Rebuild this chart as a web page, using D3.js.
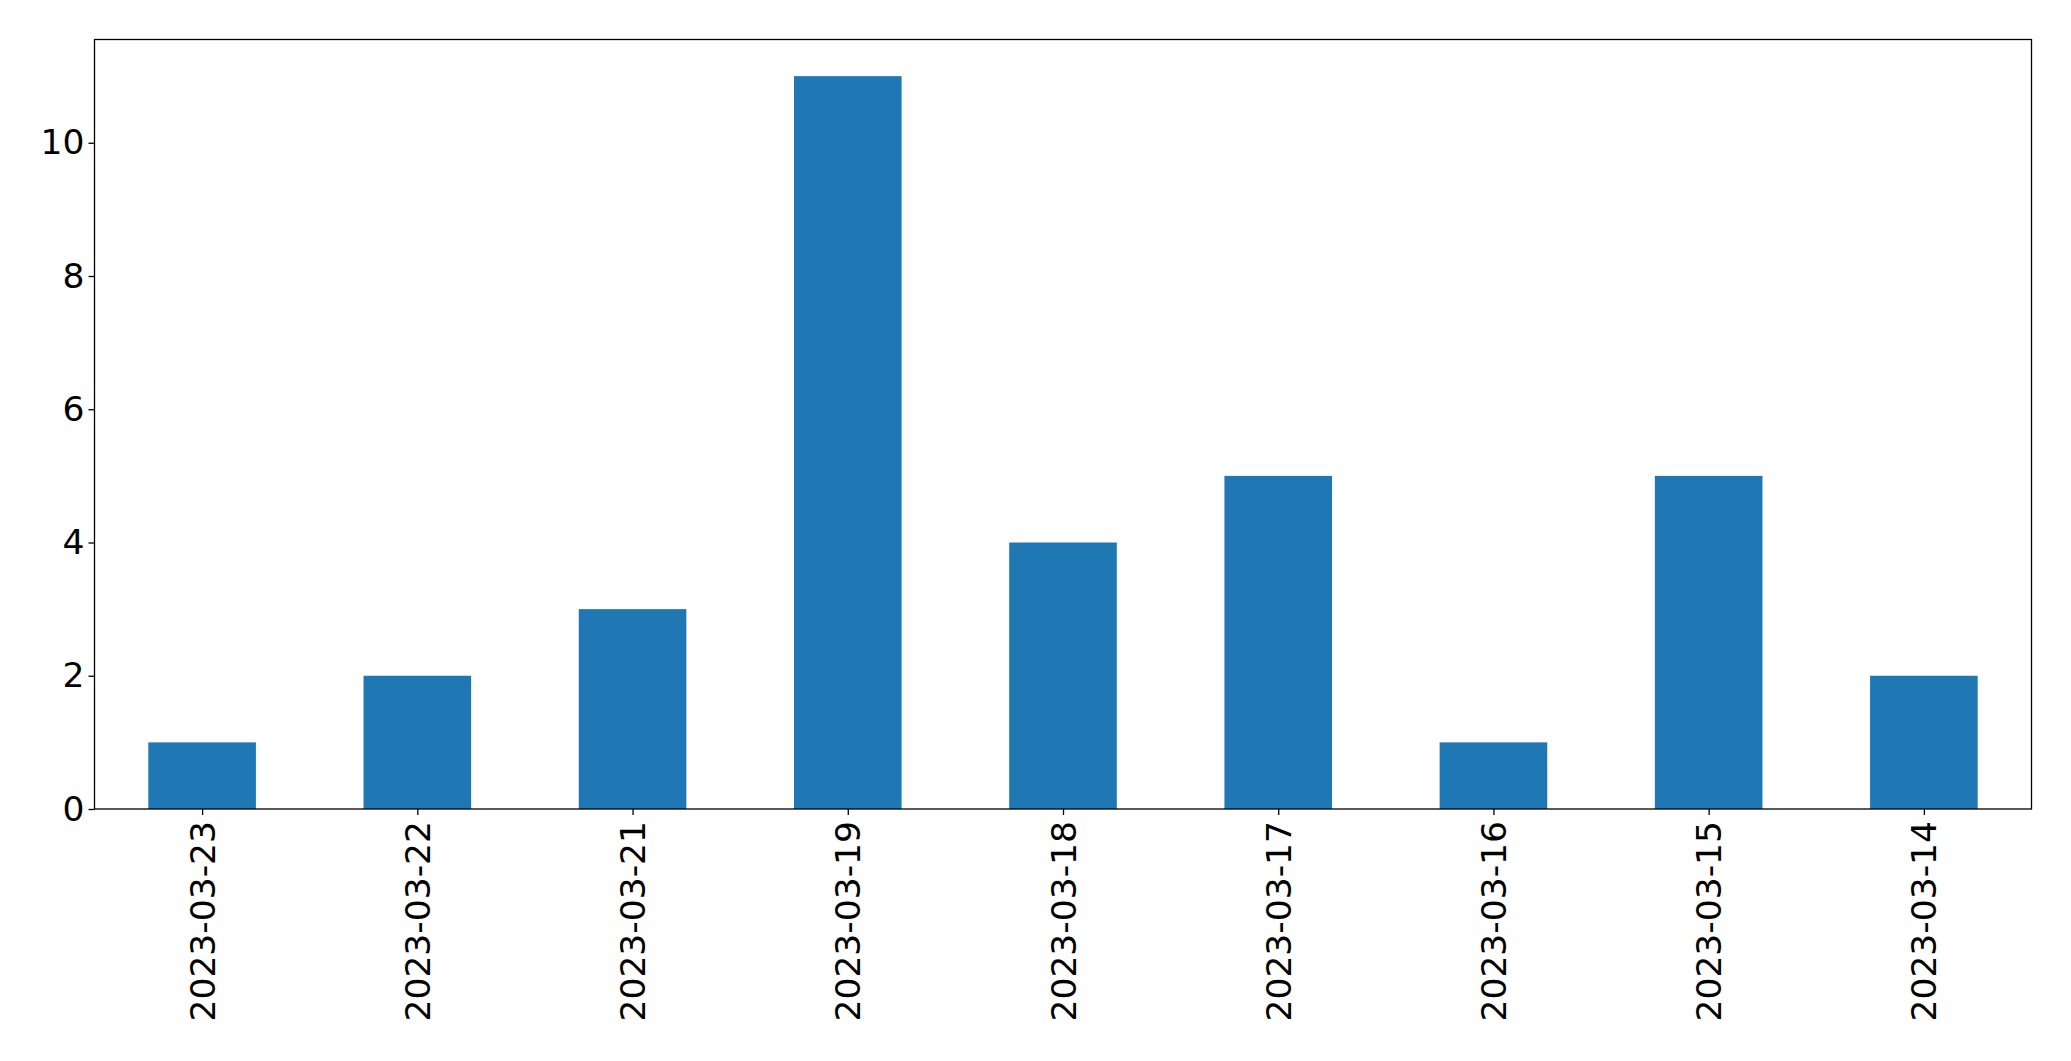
<!DOCTYPE html>
<html><head><meta charset="utf-8">
<script src="https://cdn.jsdelivr.net/npm/d3@7"></script>
<style>html,body{margin:0;padding:0;background:#fff;}</style>
</head><body>
<svg id="chart" width="2071" height="1061"></svg>
<script>
const categories = ["2023-03-23","2023-03-22","2023-03-21","2023-03-19","2023-03-18","2023-03-17","2023-03-16","2023-03-15","2023-03-14"];
const values = [1,2,3,11,4,5,1,5,2];
const yTicks = [0,2,4,6,8,10];

const W = 2071, H = 1061;
const m = {left: 94.5, right: 2031.5, top: 39.5, bottom: 809};
const svg = d3.select("#chart");
const font = "DejaVu Sans, sans-serif";
const fs = 34.5;

const x = d3.scaleLinear().domain([-0.5, categories.length - 0.5]).range([m.left, m.right]);
const y = d3.scaleLinear().domain([0, d3.max(values) * 1.05]).range([m.bottom, m.top]);

svg.append("g").selectAll("rect").data(values).join("rect")
  .attr("x", (d, i) => x(i - 0.25))
  .attr("width", (d, i) => x(i + 0.25) - x(i - 0.25))
  .attr("y", d => y(d))
  .attr("height", d => y(0) - y(d))
  .attr("fill", "#1f77b4");

// frame
svg.append("rect").attr("x", m.left).attr("y", m.top)
  .attr("width", m.right - m.left).attr("height", m.bottom - m.top)
  .attr("fill", "none").attr("stroke", "#000").attr("stroke-width", 1.3);

// y axis
const yAxis = d3.axisLeft(y).tickValues(yTicks).tickSize(6).tickPadding(4).tickFormat(d3.format("d"));
const gy = svg.append("g").attr("transform", `translate(${m.left},0)`).call(yAxis);
gy.select(".domain").remove();
gy.selectAll(".tick line").attr("stroke", "#000").attr("stroke-width", 1.3);
gy.selectAll(".tick text").attr("font-family", font).attr("font-size", fs).attr("fill", "#000");

// x axis
const xAxis = d3.axisBottom(x).tickValues(d3.range(categories.length)).tickSize(6).tickFormat(i => categories[i]);
const gx = svg.append("g").attr("transform", `translate(0,${m.bottom})`).call(xAxis);
gx.select(".domain").remove();
gx.selectAll(".tick line").attr("stroke", "#000").attr("stroke-width", 1.3);
gx.selectAll(".tick text")
  .attr("font-family", font).attr("font-size", fs).attr("fill", "#000")
  .attr("transform", "rotate(-90)")
  .attr("text-anchor", "end")
  .attr("dy", "0.35em")
  .attr("x", -12)
  .attr("y", 0);
</script>
</body></html>
